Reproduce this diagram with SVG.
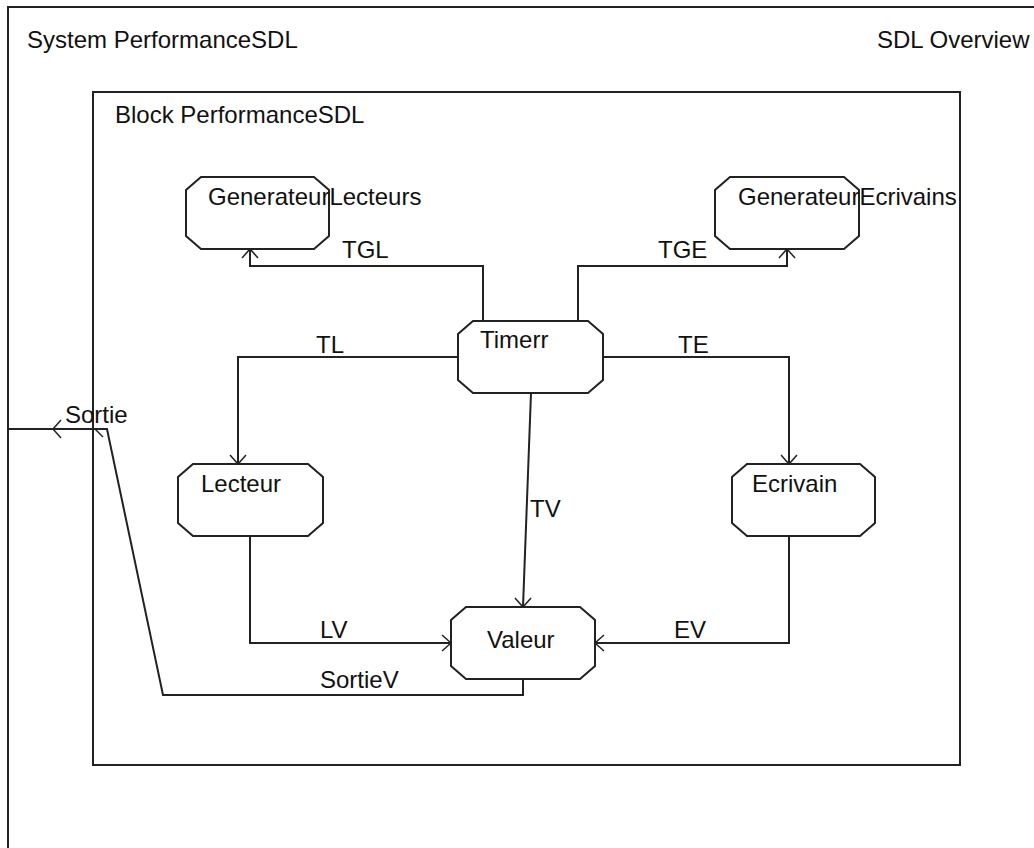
<svg xmlns="http://www.w3.org/2000/svg" width="1034" height="848" viewBox="0 0 1034 848">
<style>
text{font-family:"Liberation Sans",Arial,sans-serif;font-size:24px;fill:#111}
.frame{fill:none;stroke:#222;stroke-width:2}
.node{fill:#fff;stroke:#222;stroke-width:2}
.conn{fill:none;stroke:#222;stroke-width:2}
.arr{fill:none;stroke:#222;stroke-width:1.5}
</style>
<rect width="1034" height="848" fill="#fff"/>
<g id="system">
<rect class="frame" x="8" y="7" width="1040" height="860"/>
<text x="27" y="48">System PerformanceSDL</text>
<text x="877" y="48">SDL Overview</text>
</g>
<g id="block">
<rect class="frame" x="93" y="92" width="867" height="673"/>
<text x="115" y="123">Block PerformanceSDL</text>
</g>
<g id="connectors">
<path class="conn" d="M483,321 V266 H250 V249"/>
<polyline class="arr" points="242,258 250,249 258,258"/>
<text x="342" y="258">TGL</text>
<path class="conn" d="M578,321 V266 H787 V249"/>
<polyline class="arr" points="779,258 787,249 795,258"/>
<text x="658" y="258">TGE</text>
<path class="conn" d="M458,357 H238 V464"/>
<polyline class="arr" points="230,455 238,464 246,455"/>
<text x="316" y="353">TL</text>
<path class="conn" d="M603,357 H789 V464"/>
<polyline class="arr" points="781,455 789,464 797,455"/>
<text x="678" y="353">TE</text>
<path class="conn" d="M531,393 L523,607"/>
<polyline class="arr" points="515,598 523,607 531,598"/>
<text x="530" y="517">TV</text>
<path class="conn" d="M250,536 V643 H451"/>
<polyline class="arr" points="442,635 451,643 442,651"/>
<text x="320" y="638">LV</text>
<path class="conn" d="M789,536 V643 H595"/>
<polyline class="arr" points="604,635 595,643 604,651"/>
<text x="674" y="638">EV</text>
<path class="conn" d="M523,679 V695 H163 L107,429 H95"/>
<text x="320" y="688">SortieV</text>
<path class="conn" d="M8,429 H95"/>
<polyline class="arr" points="61,420 53,429 61,438"/>
<line class="arr" x1="95" y1="429" x2="103" y2="437"/>
<text x="65" y="423">Sortie</text>
</g>
<g id="GenerateurLecteurs">
<polygon class="node" points="201,177 314,177 329,190 329,236 314,249 201,249 186,236 186,190"/>
<text x="208" y="205">GenerateurLecteurs</text>
</g>
<g id="GenerateurEcrivains">
<polygon class="node" points="730,177 844,177 859,190 859,236 844,249 730,249 715,236 715,190"/>
<text x="738" y="205">GenerateurEcrivains</text>
</g>
<g id="Timerr">
<polygon class="node" points="473,321 588,321 603,334 603,380 588,393 473,393 458,380 458,334"/>
<text x="480" y="348">Timerr</text>
</g>
<g id="Lecteur">
<polygon class="node" points="193,464 308,464 323,477 323,523 308,536 193,536 178,523 178,477"/>
<text x="201" y="492">Lecteur</text>
</g>
<g id="Ecrivain">
<polygon class="node" points="747,464 860,464 875,477 875,523 860,536 747,536 732,523 732,477"/>
<text x="752" y="492">Ecrivain</text>
</g>
<g id="Valeur">
<polygon class="node" points="466,607 580,607 595,620 595,666 580,679 466,679 451,666 451,620"/>
<text x="487" y="648">Valeur</text>
</g>
</svg>
